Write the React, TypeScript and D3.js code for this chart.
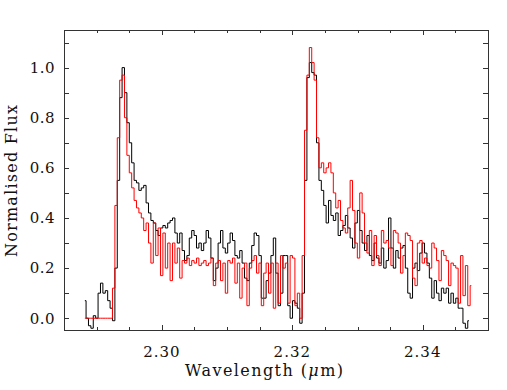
import React from 'react';
import * as d3 from 'd3';

// spectral grid (same for both spectra)
const lambdaStart = 2.2882;
const lambdaStep = 0.000368;

const blackFlux = [
  0.07, 0.0, -0.03, -0.04, 0.01, 0.0, 0.1, 0.14, 0.1, 0.11,
  0.07, 0.04, -0.01, 0.2, 0.55, 0.88, 1.0, 0.9, 0.78, 0.7,
  0.62, 0.55, 0.54, 0.51, 0.52, 0.53, 0.46, 0.42, 0.39, 0.38,
  0.35, 0.33, 0.36, 0.37, 0.36, 0.38, 0.39, 0.4, 0.34, 0.3,
  0.34, 0.27, 0.23, 0.25, 0.32, 0.35, 0.33, 0.28, 0.3, 0.27,
  0.3, 0.35, 0.32, 0.24, 0.15, 0.2, 0.3, 0.35, 0.28, 0.26,
  0.3, 0.34, 0.31, 0.25, 0.24, 0.27, 0.22, 0.16, 0.15, 0.22,
  0.29, 0.34, 0.33, 0.25, 0.08, 0.08, 0.15, 0.18, 0.25, 0.32,
  0.18, 0.05, 0.1, 0.25, 0.25, 0.05, 0.0, 0.07, 0.06, 0.04,
  -0.02, 0.1, 0.55, 0.96, 1.02, 0.98, 0.97, 0.7, 0.55, 0.51,
  0.45, 0.38, 0.47, 0.41, 0.39, 0.42, 0.33, 0.35, 0.37, 0.41,
  0.36, 0.32, 0.28, 0.38, 0.43, 0.35, 0.3, 0.27, 0.33, 0.25,
  0.23, 0.3, 0.24, 0.22, 0.28, 0.2, 0.23, 0.4, 0.28, 0.2,
  0.27, 0.24, 0.28, 0.29, 0.2, 0.1, 0.08, 0.2, 0.22, 0.19,
  0.26, 0.3, 0.26, 0.22, 0.16, 0.08, 0.15, 0.1, 0.07, 0.12,
  0.1, 0.12, 0.06, 0.1, 0.06, 0.08, 0.04, 0.04, -0.02, -0.04,
  -0.01,
];

const redFlux = [
  0, 0, 0, 0, 0, 0, 0, 0, 0, 0,
  0, 0, 0.12, 0.45, 0.72, 0.95, 0.97, 0.8, 0.65, 0.58,
  0.52, 0.47, 0.44, 0.42, 0.4, 0.35, 0.38, 0.3, 0.22, 0.38,
  0.25, 0.36, 0.17, 0.34, 0.2, 0.3, 0.15, 0.3, 0.22, 0.28,
  0.16, 0.23, 0.22, 0.24, 0.21, 0.23, 0.22, 0.24, 0.21, 0.22,
  0.23, 0.21, 0.22, 0.24, 0.13, 0.22, 0.23, 0.15, 0.22, 0.1,
  0.23, 0.22, 0.24, 0.14, 0.22, 0.08, 0.2, 0.22, 0.05, 0.2,
  0.23, 0.25, 0.18, 0.22, 0.05, 0.18, 0.22, 0.1, 0.22, 0.04,
  0.22, 0.06, 0.25, 0.2, 0.22, 0.06, 0.25, 0.24, 0.05, 0.1,
  0.0, 0.25, 0.75, 0.97, 1.08, 1.02, 0.95, 0.72, 0.6, 0.62,
  0.58, 0.6, 0.62, 0.58, 0.5, 0.44, 0.47, 0.39, 0.36, 0.34,
  0.44, 0.55, 0.43, 0.3, 0.24, 0.5, 0.42, 0.3, 0.26, 0.35,
  0.21, 0.33, 0.25, 0.21, 0.35, 0.3, 0.31, 0.28, 0.21, 0.35,
  0.34, 0.3, 0.18, 0.25, 0.34, 0.33, 0.31, 0.16, 0.13, 0.3,
  0.31, 0.22, 0.24, 0.21, 0.2, 0.3, 0.28, 0.23, 0.15, 0.27,
  0.25, 0.23, 0.13, 0.22, 0.21, 0.2, 0.06, 0.25, 0.09, 0.21,
  0.05, 0.13,
];

const xTickLabels = [2.30, 2.32, 2.34];
const yTickLabels = [0.0, 0.2, 0.4, 0.6, 0.8, 1.0];

const W = 507;
const H = 390;
const margin = { left: 64, right: 19, top: 30, bottom: 60 };
const font = '"DejaVu Serif", serif';

const App = () => {
  const iw = W - margin.left - margin.right;
  const ih = H - margin.top - margin.bottom;

  const x = d3.scaleLinear().domain([2.285, 2.35]).range([0, iw]);
  const y = d3.scaleLinear().domain([-0.047, 1.15]).range([ih, 0]);

  const toPoints = (arr: number[]) => arr.map((v, i) => [lambdaStart + i * lambdaStep, v] as [number, number]);

  const line = d3.line<[number, number]>()
    .x((d) => x(d[0]))
    .y((d) => y(d[1]))
    .curve(d3.curveStep);

  const xMinor = d3.range(2.29, 2.3475, 0.005);
  const yMinor = d3.range(0, 1.15, 0.1);
  const axisColor = '#333';

  return (
    <svg width={W} height={H} style={{ position: 'absolute', left: 0, top: 0, background: '#fff' }}>
      <defs>
        <clipPath id="plotclip">
          <rect x={0} y={0} width={iw} height={ih} />
        </clipPath>
      </defs>
      <g transform={`translate(${margin.left},${margin.top})`}>
        <g clipPath="url(#plotclip)" fill="none" strokeWidth={1}>
          <path d={line(toPoints(blackFlux)) || ''} stroke="#000" />
          <path d={line(toPoints(redFlux)) || ''} stroke="#ff0000" />
        </g>

        <rect x={0.5} y={0.5} width={iw} height={ih} fill="none" stroke={axisColor} strokeWidth={1} />

        {xMinor.map((t, i) => {
          const major = xTickLabels.some((m) => Math.abs(m - t) < 1e-6);
          const len = major ? 5 : 3;
          const px = Math.round(x(t)) + 0.5;
          return (
            <g key={'xt' + i} stroke={axisColor}>
              <line x1={px} x2={px} y1={ih} y2={ih - len} />
              <line x1={px} x2={px} y1={0} y2={len} />
            </g>
          );
        })}
        {yMinor.map((t, i) => {
          const py = Math.round(y(t)) + 0.5;
          return (
            <g key={'yt' + i} stroke={axisColor}>
              <line x1={0} x2={5} y1={py} y2={py} />
              <line x1={iw} x2={iw - 5} y1={py} y2={py} />
            </g>
          );
        })}

        {xTickLabels.map((t) => (
          <text key={'xl' + t} x={x(t)} y={ih + 27} textAnchor="middle" fontFamily={font} fontSize={15} letterSpacing={1} fill="#111">
            {t.toFixed(2)}
          </text>
        ))}
        {yTickLabels.map((t) => (
          <text key={'yl' + t} x={-9} y={y(t)} dy="0.36em" textAnchor="end" fontFamily={font} fontSize={15} letterSpacing={0.5} fill="#111">
            {t.toFixed(1)}
          </text>
        ))}

        <text x={iw / 2 - 12} y={ih + 46} textAnchor="middle" fontFamily={font} fontSize={16} textLength={158} lengthAdjust="spacing" fill="#111">
          Wavelength (<tspan fontStyle="italic">μ</tspan>m)
        </text>
        <text transform={`translate(${17 - margin.left},${ih / 2 + 1}) rotate(-90)`} textAnchor="middle" fontFamily={font} fontSize={16} textLength={152} lengthAdjust="spacing" fill="#111">
          Normalised Flux
        </text>
      </g>
    </svg>
  );
};

export default App;
